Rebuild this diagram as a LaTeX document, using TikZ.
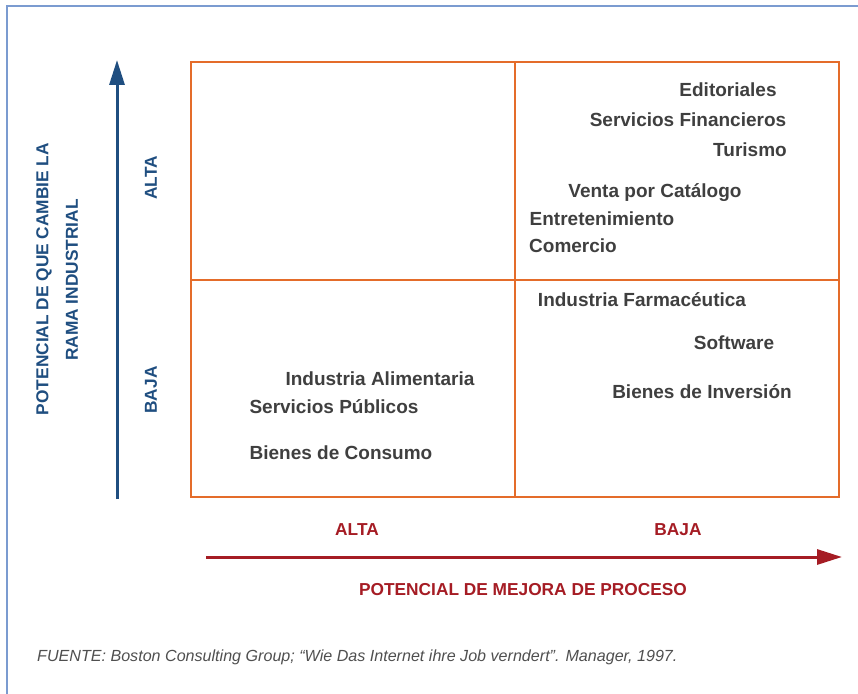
\documentclass[tikz,border=0pt]{standalone}
\usepackage{fontspec}
\setmainfont{Liberation Sans}
\usetikzlibrary{arrows.meta}

\definecolor{framebl}{HTML}{7B9BD0}
\definecolor{gridor}{HTML}{E46C2A}
\definecolor{axisbl}{HTML}{1F4E80}
\definecolor{axisrd}{HTML}{A51C24}
\definecolor{itemgr}{HTML}{3F3F3F}
\definecolor{notegr}{HTML}{4F4F4F}

\begin{document}
\begin{tikzpicture}[x=1bp,y=-1bp,
  pageframe/.style={draw=framebl, line width=2.8bp},
  gridouter/.style={draw=gridor, line width=2.2bp},
  gridinner/.style={draw=gridor, line width=1.2bp},
  vaxis/.style={draw=axisbl, line width=3bp, -{Triangle[length=25bp,width=15bp]}},
  haxis/.style={draw=axisrd, line width=3bp, -{Triangle[length=25bp,width=15bp]}},
  item/.style={font=\bfseries\fontsize{19bp}{22bp}\selectfont, text=itemgr, inner sep=0pt},
  vlabel/.style={font=\bfseries\fontsize{17.3bp}{20bp}\selectfont, text=axisbl, inner sep=0pt, rotate=90},
  hlabel/.style={font=\bfseries\fontsize{17.3bp}{20bp}\selectfont, text=axisrd, inner sep=0pt},
  note/.style={font=\itshape\fontsize{16.1bp}{19bp}\selectfont, text=notegr, inner sep=0pt, anchor=west}
]
\useasboundingbox (0,0) rectangle (858,694);

% page frame: top and left rules
\coordinate (fbl) at (7,694);
\coordinate (ftl) at (7,6);
\coordinate (ftr) at (858,6);
\draw[pageframe] (fbl) -- (ftl) -- (ftr);

% 2x2 matrix
\coordinate (gtl) at (191,62);
\coordinate (gbr) at (839,497);
\coordinate (gmt) at (515,62);
\coordinate (gmb) at (515,497);
\coordinate (gml) at (191,280);
\coordinate (gmr) at (839,280);
\draw[gridinner] (gmt) -- (gmb);
\draw[gridinner] (gml) -- (gmr);
\draw[gridouter] (gtl) rectangle (gbr);

% vertical axis
\coordinate (vs) at (117,499);
\coordinate (ve) at (117,60);
\draw[vaxis] (vs) -- (ve);
\node[vlabel] (vtitleA) at (44,279) {POTENCIAL DE QUE CAMBIE LA};
\node[vlabel] (vtitleB) at (72,280) {RAMA INDUSTRIAL};
\node[vlabel] (valta) at (151,178) {ALTA};
\node[vlabel] (vbaja) at (151,390) {BAJA};

% horizontal axis
\coordinate (hs) at (206,557);
\coordinate (he) at (842,557);
\draw[haxis] (hs) -- (he);
\node[hlabel] (halta) at (357,530) {ALTA};
\node[hlabel] (hbaja) at (678,530) {BAJA};
\node[hlabel] (htitle) at (523,590) {POTENCIAL DE MEJORA DE PROCESO};

% industries
\node[item] (edit) at (728,90)  {Editoriales};
\node[item] (serfin) at (688,120) {Servicios Financieros};
\node[item] (tur) at (750,150) {Turismo};
\node[item] (venta) at (655,193) {Venta por Catálogo};
\node[item] (entre) at (602,219) {Entretenimiento};
\node[item] (comer) at (573,246) {Comercio};
\node[item] (farma) at (642,300) {Industria Farmacéutica};
\node[item] (soft) at (734,343) {Software};
\node[item] (binv) at (702,392) {Bienes de Inversión};
\node[item] (alim) at (380,379) {Industria Alimentaria};
\node[item] (spub) at (334,407) {Servicios Públicos};
\node[item] (bcons) at (341,453) {Bienes de Consumo};

% source note
\node[note] (fuente) at (37,657) {FUENTE: Boston Consulting Group; “Wie Das Internet ihre Job verndert”. Manager, 1997.};
\end{tikzpicture}
\end{document}
